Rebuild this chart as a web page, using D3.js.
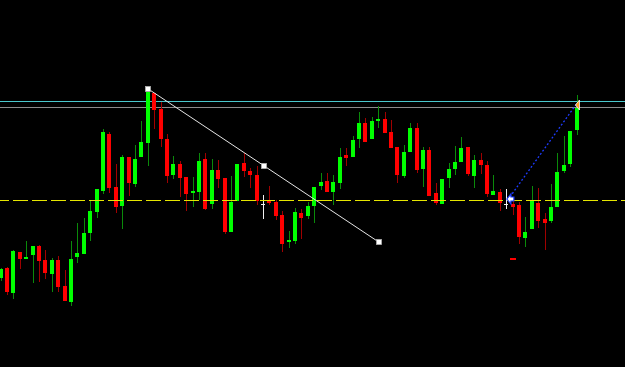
<!DOCTYPE html>
<html>
<head>
<meta charset="utf-8">
<script src="https://cdn.jsdelivr.net/npm/d3@7/dist/d3.min.js"></script>
<style>
html,body{margin:0;padding:0;background:#000;overflow:hidden;}
svg{display:block;}
</style>
</head>
<body>
<svg id="chart" width="625" height="367"></svg>
<script>
// Price values (chart points), one per bar, oldest first
const opens = [89.3,99.3,74.3,115.3,108,111.7,121,107,93.3,107,
  81,65.3,110,113,134.3,155.3,176,233,179.7,161,
  209.7,183,209.7,223.7,273.7,258,228,192,203.3,189.7,
  173.5,175.3,207.7,162.7,197,189,135.3,165.7,203.7,196.3,
  192.3,163,166.3,165,151.7,125,126.3,153.7,151.3,161.3,
  181,186,175.3,184.3,211.7,210.3,227.7,244.3,227.7,246.3,
  247.7,234.7,219.7,191,214.7,239,198,217,173.7,162.7,
  188.7,197.7,204.7,220.3,191.3,206.7,202,172,175.3,163,
  162.7,162,128.7,138,164.3,147.7,146.3,160.3,196,203,
  237];
const highs = [99,100,117,115.3,126,121.3,122,117,108.7,111,
  97,126,143.7,149.3,167,178,238,235.3,203,212,
  210,222,246,278,274,265.3,232.7,211,206.3,190,
  190,213.7,213.7,207.7,207,189,191.3,202.7,214.3,198.7,
  201,172,181,167,155.7,136.3,158.7,158,165.3,180,
  193.7,193.7,192,218.7,218.7,231,254.7,249.3,250.3,261.3,
  255.3,247,219.7,222,244.3,244.3,219.7,220.3,183.7,188,
  204.3,221.3,230.3,220.3,212,214.3,206,192,178,178.3,
  167,165.3,150.3,181.3,179.3,153.7,183,214.3,231.3,235.7,
  272];
const lows = [86,72,67.7,98,108,84.3,85.3,87.7,75.3,74.7,
  66,61,103.7,113,126.3,148.7,172.7,174.3,153.7,138,
  171.3,180.3,209.7,201,238,220.3,183.7,187.7,170.3,156.3,
  160.3,167,157,157.7,179.3,133,135.3,165.7,190.3,179.3,
  161.7,148,162,147,115.3,118.7,123,127.7,147.7,143.7,
  177,175.3,162,177.7,201,210.3,219.3,225.3,227.7,238.7,
  233.7,219.3,184.3,189.3,214.7,194.3,179.7,171.3,162,162.7,
  178.7,192,204.7,191,178.7,192.7,170.3,172,156.3,158.3,
  152,123,119.7,138,139.3,117,143.7,160.3,194.3,199.7,
  232];
const closes = [97.7,74.7,116,108,110.3,121.3,106.3,94,107,80.3,
  66,108,114.3,134.3,156,177.7,234.7,179.3,160,210.3,
  184,208,225,274.7,256.7,228,191.3,202.7,189.3,173,
  176,206.3,157.7,197,188,135,165.3,202.7,196,191.7,
  166,163,163.7,151,123.3,126.7,155.3,149,161,180,
  185,175.3,185.3,210.3,209.3,227,243.7,225.3,246.3,248.3,
  233.7,219.3,192,214.7,238.7,197,217,171.3,163.7,188,
  198,205,219.3,192.7,206.7,202,173.3,176,163.7,163,
  160.3,130.3,135.3,166,146,144.3,160.3,194.7,202,235.7,
  258.7];

// Horizontal levels
const levelCyan = 265.7;
const levelGray = 259.7;
const levelYellow = 166.7;
// Trend line (bar index, price)
const trendBars = [23, 59];
const trendPrices = [278, 125];
// Trade line (bar index, price)
const tradeBars = [79.5, 89.9];
const tradePrices = [170, 263];
// Small red mark
const markBars = [80];
const markPrices = [108];

const W = 625, H = 367;
const svg = d3.select('#chart');
svg.append('rect').attr('width', W).attr('height', H).attr('fill', '#000');

const n = opens.length;
const x = d3.scaleLinear().domain([0, n - 1]).range([1.1, 577.1]);
const y = d3.scaleLinear().domain([0, 367]).range([H, 0]);

const bars = d3.range(n).map(i => ({i, o: opens[i], h: highs[i], l: lows[i], c: closes[i]}));
const col = i => Math.floor(x(i));

const g = svg.append('g').attr('shape-rendering', 'crispEdges');

// Level lines
g.append('line').attr('x1', 0).attr('x2', W)
  .attr('y1', Math.round(y(levelCyan)) + 0.5).attr('y2', Math.round(y(levelCyan)) + 0.5)
  .attr('stroke', '#48c8cc').attr('stroke-width', 1);
g.append('line').attr('x1', 0).attr('x2', W)
  .attr('y1', Math.round(y(levelGray)) + 0.5).attr('y2', Math.round(y(levelGray)) + 0.5)
  .attr('stroke', '#8c8c8c').attr('stroke-width', 1);

// Wicks
g.selectAll('line.wick').data(bars).join('line').attr('class', 'wick')
  .attr('x1', d => col(d.i) + 0.5).attr('x2', d => col(d.i) + 0.5)
  .attr('y1', d => Math.round(y(d.h))).attr('y2', d => Math.round(y(d.l)))
  .attr('stroke', d => d.c > d.o ? '#0a8a0a' : (d.c < d.o ? '#a00000' : '#f0f0f0'))
  .attr('stroke-width', 1);

// Bodies
g.selectAll('rect.body').data(bars.filter(d => d.c !== d.o)).join('rect').attr('class', 'body')
  .attr('x', d => col(d.i) - 2)
  .attr('width', 4)
  .attr('y', d => Math.round(y(Math.max(d.o, d.c))))
  .attr('height', d => Math.max(1, Math.round(y(Math.min(d.o, d.c))) - Math.round(y(Math.max(d.o, d.c)))))
  .attr('fill', d => d.c > d.o ? '#00ff00' : '#ff0000');

// Doji ticks
g.selectAll('line.doji').data(bars.filter(d => d.c === d.o)).join('line').attr('class', 'doji')
  .attr('x1', d => col(d.i) - 2).attr('x2', d => col(d.i) + 2)
  .attr('y1', d => Math.round(y(d.o)) + 0.5).attr('y2', d => Math.round(y(d.o)) + 0.5)
  .attr('stroke', '#f0f0f0');

// Yellow dashed level
svg.append('line').attr('x1', 0).attr('x2', W)
  .attr('y1', Math.round(y(levelYellow)) + 0.5).attr('y2', Math.round(y(levelYellow)) + 0.5)
  .attr('stroke', '#e6e600').attr('stroke-width', 1.2)
  .attr('stroke-dasharray', '15,4').attr('stroke-dashoffset', 6)
  .attr('shape-rendering', 'crispEdges');

// Trend line with handles
const tp = trendBars.map((b, k) => [x(b), y(trendPrices[k])]);
svg.append('line').attr('x1', tp[0][0]).attr('y1', tp[0][1]).attr('x2', tp[1][0]).attr('y2', tp[1][1])
  .attr('stroke', '#e6e6e6').attr('stroke-width', 1);
const handles = [tp[0], [(tp[0][0] + tp[1][0]) / 2, (tp[0][1] + tp[1][1]) / 2], tp[1]];
svg.selectAll('rect.handle').data(handles).join('rect').attr('class', 'handle')
  .attr('x', d => Math.round(d[0]) - 2.5).attr('y', d => Math.round(d[1]) - 2.5)
  .attr('width', 5).attr('height', 5)
  .attr('fill', '#ffffff').attr('stroke', '#b0b0b0').attr('stroke-width', 0.8);

// Trade line (blue dotted)
const bp = tradeBars.map((b, k) => [x(b), y(tradePrices[k])]);
svg.append('line').attr('x1', bp[0][0]).attr('y1', bp[0][1]).attr('x2', bp[1][0]).attr('y2', bp[1][1])
  .attr('stroke', '#1e3cff').attr('stroke-width', 1.3).attr('stroke-dasharray', '2,2');

// Start arrow (blue)
const sx = bp[0][0], sy = bp[0][1] + 2;
svg.append('path')
  .attr('d', `M${sx-3},${sy} L${sx+1},${sy-5} L${sx+1},${sy-2} L${sx+4},${sy-2} L${sx+4},${sy+2} L${sx+1},${sy+2} L${sx+1},${sy+5} Z`)
  .attr('fill', '#ffffff').attr('stroke', '#1e3cff').attr('stroke-width', 1.2);

// End arrow (orange)
const ex = bp[1][0] + 2, ey = bp[1][1] + 1;
svg.append('path')
  .attr('d', `M${ex-3},${ey} L${ex+1},${ey-5} L${ex+1},${ey+5} Z`)
  .attr('fill', '#ff9a1a').attr('stroke', '#ffffff').attr('stroke-width', 0.8);

// Red mark
svg.selectAll('rect.mark').data(markBars).join('rect').attr('class', 'mark')
  .attr('x', (d, k) => col(d) - 3).attr('y', (d, k) => Math.round(y(markPrices[k])) - 1)
  .attr('width', 6).attr('height', 2).attr('fill', '#ff0000')
  .attr('shape-rendering', 'crispEdges');
</script>
</body>
</html>
